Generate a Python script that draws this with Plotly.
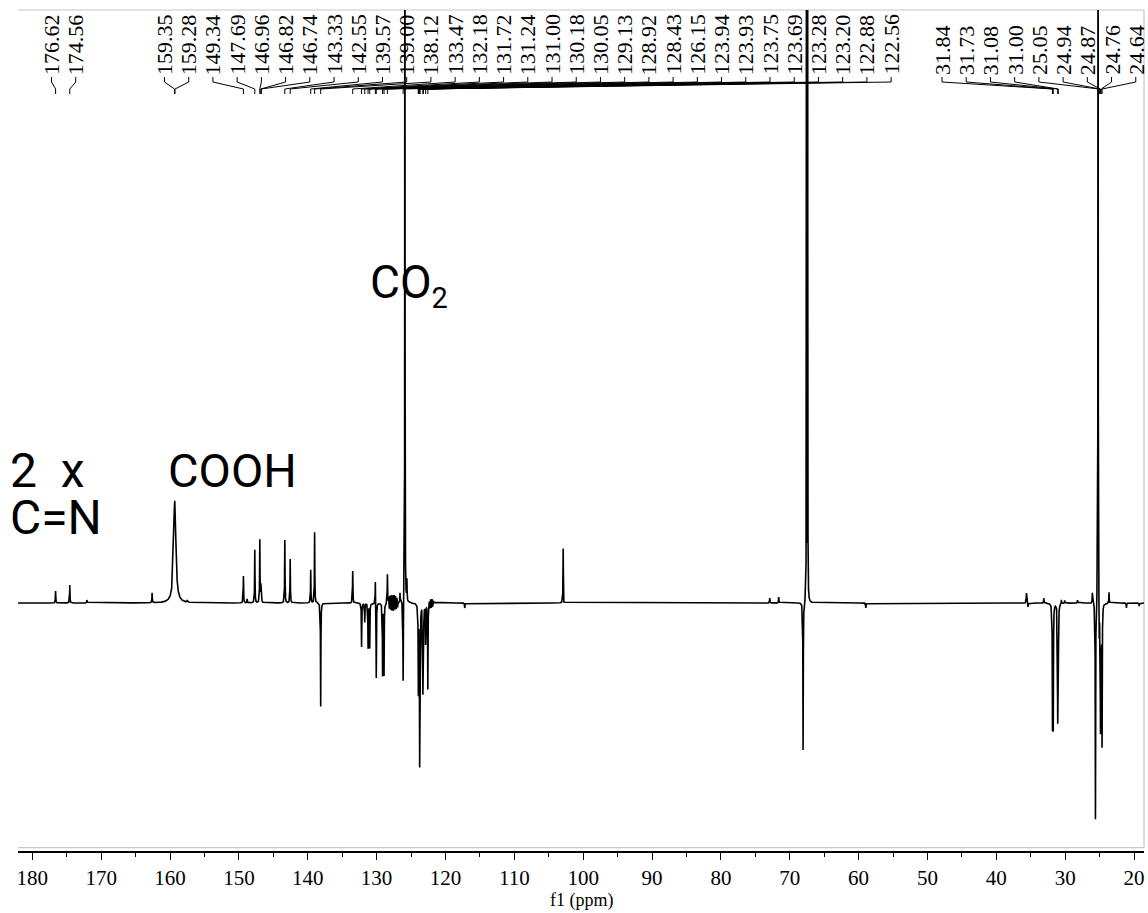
import numpy as np
import plotly.graph_objects as go

# ---------------- data ----------------
# Picked peaks (ppm) with their signed intensities (APT/DEPT-style phase)
picked_ppm = [176.62, 174.56, 159.35, 159.28, 149.34, 147.69, 146.96, 146.82,
              146.74, 143.33, 142.55, 139.57, 139.00, 138.12, 133.47, 132.18,
              131.72, 131.24, 131.00, 130.18, 130.05, 129.13, 128.92, 128.43,
              126.15, 123.94, 123.93, 123.75, 123.69, 123.28, 123.20, 122.88,
              122.56, 31.84, 31.73, 31.08, 31.00, 25.05, 24.94, 24.87, 24.76,
              24.64]
picked_height = [12, 18, 53, 53, 27, 53, 63, 15,
                 15, 63, 44, 33, 71, -104, 32, -44,
                 -19, -45, -45, 25, -76, -72, -72, 29,
                 -83, -45, -45, -135, -130, -80, -80, -40,
                 -86, -120, -120, -107, -107, -40, -40, -120, -60,
                 -140]
picked_hwhm = [0.03, 0.03, 0.18, 0.18] + [0.03] * 38

# Other signals in the trace (solvent, CO2, minor impurities)
other_ppm = [172.06, 162.60, 157.50, 148.80, 126.60, 125.89, 125.60, 117.20,
             102.90, 102.80, 72.90, 71.60, 68.06, 67.56, 67.40, 58.95, 35.62,
             35.40, 33.10, 30.55, 30.06, 28.20, 26.05, 25.60, 25.22, 23.63,
             21.10, 19.25]
other_height = [3, 10, 2, 4, 10, 900, 21, -5,
                55, -4, 5, 6, -149, 900, 900, -5, 10,
                -4, 5, 4, 3, 3, 11, -219, 900, 11,
                -5, -3]
other_hwhm = [0.03, 0.03, 0.03, 0.03, 0.03, 0.02, 0.03, 0.03,
              0.03, 0.03, 0.03, 0.03, 0.03, 0.015, 0.015, 0.03, 0.03,
              0.03, 0.03, 0.03, 0.03, 0.03, 0.03, 0.03, 0.02, 0.03,
              0.03, 0.03]

# Truncation wiggles on either side of the CO2 line
ringing_ppm = [128.25, 128.15, 128.05, 127.95, 127.85, 127.75, 127.65, 127.55,
               127.45, 127.35, 127.25, 127.15, 127.05, 126.95,
               122.35, 122.25, 122.15, 122.05, 121.95, 121.85, 121.75]
ringing_height = [6, -7, 8, -8, 9, -9, 9, -9,
                  9, -8, 8, -7, 6, -5,
                  4, -5, 5, -5, 5, -4, 3]

axis_ticks = [180, 170, 160, 150, 140, 130, 120, 110, 100, 90, 80, 70, 60, 50, 40, 30, 20]
minor_ticks = [175, 165, 155, 145, 135, 125, 115, 105, 95, 85, 75, 65, 55, 45, 35, 25]
axis_title = "f1 (ppm)"

caption_text = ["2\u00a0\u00a0x", "C=N", "COOH",
                'CO<sub><span style="font-size:29px">2</span></sub>']

# ---------------- layout geometry ----------------
W, H = 1148, 913
M_L, M_R, M_T, M_B = 18, 4, 10, 61
PLOT_W = W - M_L - M_R
PLOT_H = H - M_T - M_B
FRAME_BOTTOM_PX = 847.7
X_RANGE = [182.08, 18.55]
Y_RANGE = [-244.7, 593.0]

LABEL_GROUP_START_PX = [51.5, 164.5, 942.0]
LABEL_PITCH_PX = 24.22

SERIF = "Liberation Serif, Times New Roman, serif"


def px_to_ppm(px):
    return X_RANGE[0] + (px - M_L) / PLOT_W * (X_RANGE[1] - X_RANGE[0])


def px_to_xpaper(px):
    return (px - M_L) / PLOT_W


def py_to_paper(py):
    return (H - M_B - py) / PLOT_H


# ---------------- spectrum trace ----------------
x = np.arange(X_RANGE[1], X_RANGE[0], 0.004)
y = np.zeros_like(x)
all_ppm = picked_ppm + other_ppm + ringing_ppm
all_height = picked_height + other_height + ringing_height
all_hwhm = picked_hwhm + other_hwhm + [0.03] * len(ringing_ppm)
for c, h, w in zip(all_ppm, all_height, all_hwhm):
    y += h / (1.0 + ((x - c) / w) ** 2)

fig = go.Figure()
fig.add_trace(go.Scatter(x=x, y=y, mode="lines",
                         line=dict(color="black", width=1.6),
                         hoverinfo="skip", showlegend=False))

shapes = []
annotations = []

# Frame around the spectrum area (top, right, bottom)
frame_bottom = py_to_paper(FRAME_BOTTOM_PX)
gray = "#c8c8c8"
for x0, y0, x1, y1 in [(0, 1, 1, 1), (1, frame_bottom, 1, 1), (0, frame_bottom, 1, frame_bottom)]:
    shapes.append(dict(type="line", xref="paper", yref="paper", x0=x0, y0=y0,
                       x1=x1, y1=y1, line=dict(color=gray, width=1.2), layer="below"))

# ---------------- peak label row ----------------
groups = [[0]]
for i in range(1, len(picked_ppm)):
    if picked_ppm[i - 1] - picked_ppm[i] > 10:
        groups.append([i])
    else:
        groups[-1].append(i)

label_font = dict(family=SERIF, size=22, color="black")
y_text = py_to_paper(76)
y_a, y_b, y_c, y_d = (py_to_paper(v) for v in (77, 82, 89, 94))
for g, members in enumerate(groups):
    for k, idx in enumerate(members):
        lx = px_to_ppm(LABEL_GROUP_START_PX[g] + k * LABEL_PITCH_PX)
        pk = picked_ppm[idx]
        annotations.append(dict(x=lx, y=y_text, xref="x", yref="paper",
                                text=f"{pk:.2f}", textangle=-90, showarrow=False,
                                xanchor="center", yanchor="bottom", font=label_font,
                                borderpad=0))
        shapes.append(dict(type="path", xref="x", yref="paper",
                           path=f"M {lx},{y_a} L {lx},{y_b} L {pk},{y_c} L {pk},{y_d}",
                           line=dict(color="black", width=1)))

# ---------------- assignment captions ----------------
caption_pos = [(8, 470), (8, 517), (166, 470), (368, 285)]
caption_size = [48, 48, 47, 46]
for txt, (px, py), fs in zip(caption_text, caption_pos, caption_size):
    annotations.append(dict(x=px_to_xpaper(px), y=py_to_paper(py), xref="paper",
                            yref="paper", text=txt, showarrow=False,
                            xanchor="left", yanchor="middle",
                            font=dict(family="Roboto", size=fs, color="black")))

# Axis title sits right under the tick labels
annotations.append(dict(x=0.5, y=py_to_paper(900), xref="paper", yref="paper",
                        text=axis_title, showarrow=False, xanchor="center",
                        yanchor="middle", borderpad=0,
                        font=dict(family=SERIF, size=18, color="black")))

fig.update_layout(
    width=W, height=H,
    margin=dict(l=M_L, r=M_R, t=M_T, b=M_B, pad=0),
    paper_bgcolor="white", plot_bgcolor="white",
    shapes=shapes, annotations=annotations,
    xaxis=dict(range=X_RANGE, domain=[0, 1], anchor="free", position=0,
               showline=True, linecolor="black", linewidth=1.5,
               ticks="outside", ticklen=7, tickwidth=1.2, tickcolor="black",
               tickmode="array", tickvals=axis_ticks,
               ticktext=[str(t) for t in axis_ticks],
               minor=dict(tickmode="array", tickvals=minor_ticks, ticks="outside",
                          ticklen=4, tickwidth=1.2, tickcolor="black", showgrid=False),
               tickfont=dict(family=SERIF, size=21, color="black"),
               showgrid=False, zeroline=False),
    yaxis=dict(range=Y_RANGE, domain=[frame_bottom, 1], visible=False,
               showgrid=False, zeroline=False),
)

fig.write_html("out.html")
